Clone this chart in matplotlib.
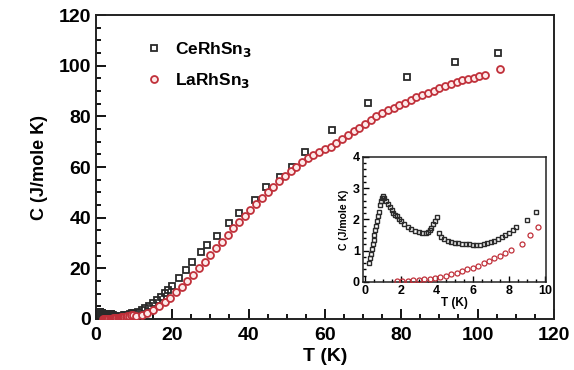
import matplotlib
matplotlib.use("Agg")
import matplotlib.pyplot as plt
from matplotlib.ticker import MultipleLocator

plt.rcParams['font.family'] = ['Liberation Sans', 'DejaVu Sans']
plt.rcParams['font.weight'] = 'bold'

# ---- inset data (low T) ----
ce_in_T = [0.25, 0.3, 0.35, 0.4, 0.45, 0.5, 0.55, 0.6, 0.65, 0.7, 0.75, 0.8, 0.85, 0.9, 0.95, 1.0,
           1.1, 1.2, 1.3, 1.4, 1.5, 1.6, 1.7, 1.8, 1.9, 2.0, 2.2, 2.4, 2.6, 2.8, 3.0, 3.2, 3.4,
           3.5, 3.6, 3.7, 3.8, 3.9, 4.0, 4.15, 4.25, 4.4, 4.6, 4.8, 5.0, 5.2, 5.4, 5.6, 5.8,
           6.0, 6.2, 6.4, 6.6, 6.8, 7.0, 7.2, 7.4, 7.6, 7.8, 8.0, 8.2, 8.4, 9.0, 9.5]
ce_in_C = [0.6, 0.75, 0.9, 1.05, 1.2, 1.35, 1.5, 1.65, 1.8, 1.95, 2.1, 2.25, 2.45, 2.6, 2.7, 2.75,
           2.7, 2.6, 2.5, 2.4, 2.3, 2.2, 2.15, 2.1, 2.02, 1.95, 1.85, 1.77, 1.7, 1.64, 1.6, 1.58, 1.57,
           1.6, 1.66, 1.74, 1.84, 1.95, 2.08, 1.55, 1.45, 1.36, 1.3, 1.27, 1.25, 1.24, 1.22, 1.21, 1.2,
           1.19, 1.18, 1.19, 1.21, 1.24, 1.28, 1.32, 1.37, 1.43, 1.5, 1.58, 1.66, 1.75, 1.98, 2.25]

la_in_T = [1.8, 2.1, 2.4, 2.7, 3.0, 3.3, 3.6, 3.9, 4.2, 4.5, 4.8, 5.1, 5.4, 5.7, 6.0, 6.3, 6.6,
           6.9, 7.2, 7.5, 7.8, 8.1, 8.7, 9.15, 9.6]
la_in_C = [0.02, 0.03, 0.04, 0.06, 0.07, 0.09, 0.11, 0.14, 0.17, 0.2, 0.24, 0.29, 0.34, 0.4,
           0.46, 0.52, 0.59, 0.67, 0.75, 0.83, 0.92, 1.02, 1.22, 1.5, 1.75]

# ---- main data (extra points above 10 K) ----
ce_hi_T = [10, 11, 12, 13, 14, 15, 16, 17, 18, 19, 20, 21.8, 23.7, 25.3, 27.6, 29.2, 31.8, 35,
           37.6, 41.6, 44.7, 48.2, 51.3, 54.7, 61.8, 71.3, 81.6, 94.2, 105.3]
ce_hi_C = [2.3, 2.9, 3.6, 4.4, 5.3, 6.3, 7.5, 8.8, 10.2, 11.6, 13, 16, 19.5, 22.5, 26.3, 29.3,
           32.7, 37.8, 42, 47, 52, 56, 60, 66, 74.8, 85.4, 95.7, 101.6, 105.1]

la_hi_T = [10.5, 12, 13.5, 15, 16.5, 18, 19.5, 21, 22.5, 24, 25.5, 27, 28.5, 30, 31.5, 33,
           34.5, 36, 37.5, 39, 40.5, 42, 43.5, 45, 46.5, 48, 49.5, 51, 52.5, 54, 55.5, 57, 58.5,
           60, 61.5, 63, 64.5, 66, 67.5, 69, 70.5, 72, 73.5, 75, 76.5, 78, 79.5, 81, 82.5, 84,
           85.5, 87, 88.5, 90, 91.5, 93, 94.5, 96, 97.5, 99, 100.5, 102, 106]
la_hi_C = [1.2, 1.6, 2.5, 3.6, 5.0, 6.6, 8.3, 10.5, 12.7, 15, 17.4, 20, 22.6, 25.3, 27.9, 30.5,
           33.2, 35.8, 38.3, 40.8, 43.2, 45.6, 47.9, 50.1, 52.3, 54.4, 56.4, 58.3, 60.1, 61.8,
           63.4, 64.8, 66, 67, 68, 69.5, 71, 72.6, 74.1, 75.6, 77.1, 78.5, 80, 81.4, 82.5, 83.5,
           84.5, 85.5, 86.5, 87.5, 88.4, 89.3, 90.2, 91.1, 92, 92.9, 93.6, 94.2, 94.8, 95.3,
           95.8, 96.3, 98.7]

labels = ['CeRhSn$_3$', 'LaRhSn$_3$']
ce_color = '#2a2a2a'
la_color = '#c0303a'

fig = plt.figure(figsize=(5.74, 3.70), dpi=100)
ax = fig.add_axes([0.167, 0.138, 0.798, 0.821])

ax.plot(ce_in_T + ce_hi_T, ce_in_C + ce_hi_C, 's', ms=4.5, mfc='none', mec=ce_color, mew=1.3,
        label=labels[0], zorder=2)
ax.plot(la_in_T + la_hi_T, la_in_C + la_hi_C, 'o', ms=5, mfc='#fdeaea', mec=la_color, mew=1.3,
        label=labels[1], zorder=3)

ax.set_xlim(0, 120)
ax.set_ylim(0, 120)
ax.xaxis.set_major_locator(MultipleLocator(20))
ax.xaxis.set_minor_locator(MultipleLocator(5))
ax.yaxis.set_major_locator(MultipleLocator(20))
ax.yaxis.set_minor_locator(MultipleLocator(5))
ax.tick_params(which='both', direction='in', width=1.3, labelsize=14)
ax.tick_params(axis='x', which='major', pad=6)
ax.tick_params(which='major', length=7)
ax.tick_params(which='minor', length=3.5)
for s in ax.spines.values():
    s.set_linewidth(1.4)
    s.set_color('#222222')
ax.set_xlabel('T (K)', fontsize=14, fontweight='bold', labelpad=3)
ax.set_ylabel('C (J/mole K)', fontsize=13, fontweight='bold', labelpad=8)

leg = ax.legend(loc='upper left', bbox_to_anchor=(0.07, 0.97), frameon=False, fontsize=12.5,
                handletextpad=0.6, labelspacing=0.7, markerscale=1.0, handlelength=1.2)

# ---- inset ----
axi = fig.add_axes([0.632, 0.238, 0.319, 0.338])
axi.plot(ce_in_T, ce_in_C, 's', ms=3.3, mfc='none', mec=ce_color, mew=1.0, zorder=2)
axi.plot(la_in_T, la_in_C, 'o', ms=3.6, mfc='none', mec=la_color, mew=0.9, zorder=3)
axi.set_xlim(-0.1, 10.05)
axi.set_ylim(0, 4)
axi.xaxis.set_major_locator(MultipleLocator(2))
axi.xaxis.set_minor_locator(MultipleLocator(0.5))
axi.yaxis.set_major_locator(MultipleLocator(1))
axi.yaxis.set_minor_locator(MultipleLocator(0.2))
axi.tick_params(which='both', direction='in', width=1.0, labelsize=9, pad=2)
axi.tick_params(which='major', length=4)
axi.tick_params(which='minor', length=2)
for s in axi.spines.values():
    s.set_linewidth(1.1)
    s.set_color('#222222')
axi.set_xlabel('T (K)', fontsize=8.5, fontweight='bold', labelpad=0)
axi.set_ylabel('C (J/mole K)', fontsize=7.5, fontweight='bold', labelpad=3)

fig.savefig('out.png', dpi=100)
